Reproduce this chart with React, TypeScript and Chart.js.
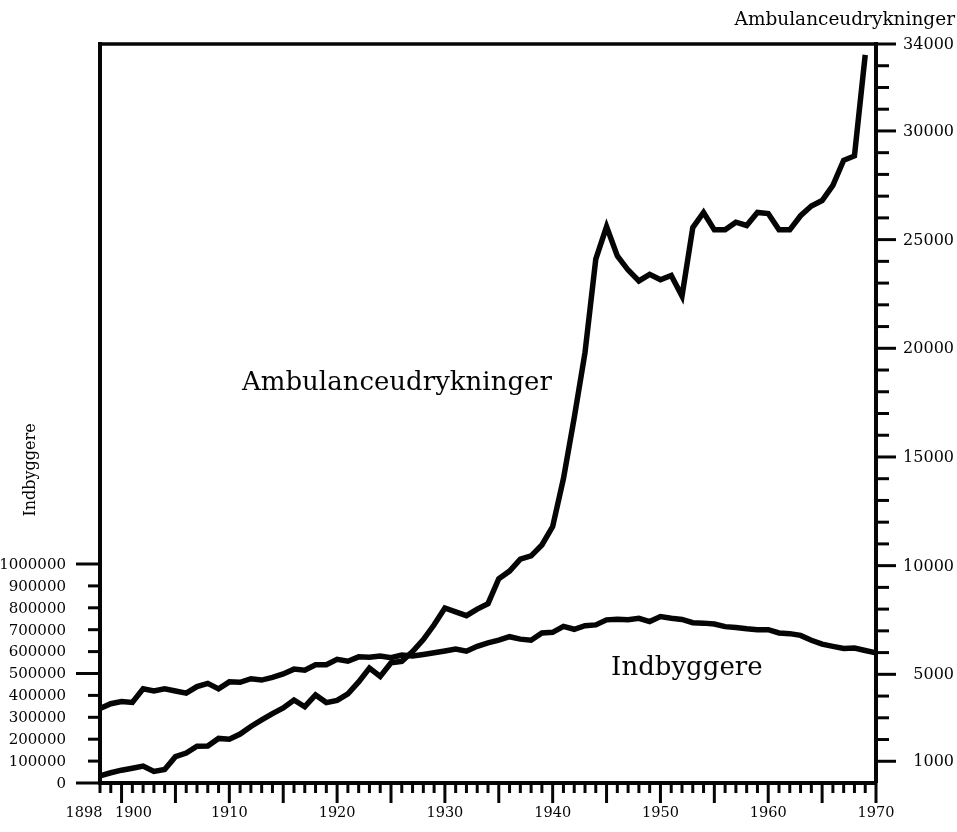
import { useEffect, useRef } from 'react';
import { Chart, registerables } from 'chart.js';

Chart.register(...registerables);

// ---------- data ----------
const popYears: number[] = [
  1898, 1899, 1900, 1901, 1902, 1903, 1904, 1905, 1906, 1907, 1908, 1909,
  1910, 1911, 1912, 1913, 1914, 1915, 1916, 1917, 1918, 1919,
  1920, 1921, 1922, 1923, 1924, 1925, 1926, 1927, 1928, 1929,
  1930, 1931, 1932, 1933, 1934, 1935, 1936, 1937, 1938, 1939,
  1940, 1941, 1942, 1943, 1944, 1945, 1946, 1947, 1948, 1949,
  1950, 1951, 1952, 1953, 1954, 1955, 1956, 1957, 1958, 1959,
  1960, 1961, 1962, 1963, 1964, 1965, 1966, 1967, 1968, 1969, 1970,
];
const indbyggere: number[] = [
  340000, 362000, 372000, 368000, 430000, 420000, 430000, 420000, 410000, 440000, 455000, 430000,
  462000, 460000, 476000, 470000, 482000, 498000, 520000, 515000, 540000, 540000,
  565000, 556000, 576000, 574000, 580000, 572000, 584000, 580000, 587000, 595000,
  603000, 612000, 602000, 624000, 640000, 652000, 668000, 657000, 652000, 685000,
  688000, 715000, 702000, 718000, 722000, 745000, 748000, 746000, 752000, 737000,
  760000, 752000, 747000, 732000, 730000, 726000, 714000, 710000, 704000, 700000,
  700000, 685000, 682000, 674000, 652000, 634000, 624000, 614000, 616000, 605000, 594000,
];

const ambYears: number[] = [
  1898, 1899, 1900, 1901, 1902, 1903, 1904, 1905, 1906, 1907, 1908, 1909,
  1910, 1911, 1912, 1913, 1914, 1915, 1916, 1917, 1918, 1919,
  1920, 1921, 1922, 1923, 1924, 1925, 1926, 1927, 1928, 1929,
  1930, 1931, 1932, 1933, 1934, 1935, 1936, 1937, 1938, 1939,
  1940, 1941, 1942, 1943, 1944, 1945, 1946, 1947, 1948, 1949,
  1950, 1951, 1952, 1953, 1954, 1955, 1956, 1957, 1958, 1959,
  1960, 1961, 1962, 1963, 1964, 1965, 1966, 1967, 1968, 1969,
];
const ambulanceudrykninger: number[] = [
  330, 470, 590, 680, 780, 530, 620, 1210, 1380, 1690, 1700, 2050,
  2010, 2250, 2600, 2900, 3190, 3450, 3820, 3510, 4050, 3700,
  3800, 4100, 4650, 5290, 4900, 5530, 5600, 6050, 6600, 7280,
  8050, 7870, 7700, 8000, 8250, 9400, 9750, 10300, 10450, 10950,
  11800, 14000, 16800, 19800, 24100, 25600, 24250, 23600, 23100, 23400,
  23150, 23350, 22400, 25550, 26250, 25450, 25450, 25800, 25650, 26250,
  26200, 25450, 25450, 26100, 26550, 26800, 27500, 28650, 28850, 33500,
];

const popTickValues: number[] = [0, 100000, 200000, 300000, 400000, 500000, 600000, 700000, 800000, 900000, 1000000];
const popMajorTicks: number[] = [0, 500000, 1000000];
const ambLabelValues: number[] = [1000, 5000, 10000, 15000, 20000, 25000, 30000, 34000];
const yearLabels: number[] = [1898, 1900, 1910, 1920, 1930, 1940, 1950, 1960, 1970];

const xMin = 1898;
const xMax = 1970;
const ambMax = 34000;
const popMax = 3374429;

const INK = '#050505';
const FONT = '"DejaVu Serif", "Liberation Serif", serif';

const handAxes = {
  id: 'handAxes',
  beforeDatasetsDraw(chart: any) {
    const { ctx, chartArea: a, scales } = chart;
    const xs = scales.x;
    const yp = scales.yPop;
    const ya = scales.yAmb;
    const seg = (x1: number, y1: number, x2: number, y2: number) => {
      ctx.beginPath();
      ctx.moveTo(x1, y1);
      ctx.lineTo(x2, y2);
      ctx.stroke();
    };
    ctx.save();
    ctx.strokeStyle = INK;
    ctx.fillStyle = INK;
    ctx.lineCap = 'butt';

    // frame
    ctx.lineWidth = 4;
    seg(a.left, a.top - 2, a.left, a.bottom + 2);
    seg(a.left, a.bottom, a.right, a.bottom);
    seg(a.right, a.top - 2, a.right, a.bottom);
    ctx.lineWidth = 3.5;
    seg(a.left - 2, a.top, a.right, a.top);

    // left axis ticks + labels
    ctx.lineWidth = 3;
    ctx.font = `15px ${FONT}`;
    ctx.textAlign = 'right';
    ctx.textBaseline = 'middle';
    popTickValues.forEach((v) => {
      const y = yp.getPixelForValue(v);
      const len = popMajorTicks.includes(v) ? 24 : 12;
      seg(a.left - len, y, a.left, y);
      ctx.fillText(String(v), a.left - 34, y + 1);
    });

    // right axis ticks + labels
    ctx.font = `16px ${FONT}`;
    ctx.textAlign = 'right';
    for (let v = 1000; v <= ambMax; v += 1000) {
      const y = ya.getPixelForValue(v);
      const major = ambLabelValues.includes(v);
      seg(a.right, y, a.right + (major ? 20 : 13), y);
      if (major) ctx.fillText(String(v), 954, y + 1);
    }

    // bottom axis ticks + labels
    for (let yr = xMin; yr <= xMax; yr++) {
      const x = xs.getPixelForValue(yr);
      const len = yr % 5 === 0 ? 20 : 10;
      seg(x, a.bottom, x, a.bottom + len);
    }
    ctx.font = `14.5px ${FONT}`;
    ctx.textAlign = 'center';
    yearLabels.forEach((yr) => {
      let x = xs.getPixelForValue(yr);
      if (yr === 1898) x -= 16;
      if (yr === 1900) x += 12;
      ctx.fillText(String(yr), x, a.bottom + 30);
    });

    // axis titles
    ctx.font = `18.5px ${FONT}`;
    ctx.textAlign = 'right';
    ctx.fillText('Ambulanceudrykninger', 955, 20);
    ctx.save();
    ctx.translate(31, 470);
    ctx.rotate(-Math.PI / 2);
    ctx.textAlign = 'center';
    ctx.font = `16px ${FONT}`;
    ctx.fillText('Indbyggere', 0, 0);
    ctx.restore();

    // in-chart series labels
    ctx.font = `26px ${FONT}`;
    ctx.textAlign = 'center';
    ctx.fillText('Ambulanceudrykninger', xs.getPixelForValue(1925.55), ya.getPixelForValue(18400));
    ctx.fillText('Indbyggere', xs.getPixelForValue(1952.45), ya.getPixelForValue(5290));

    ctx.restore();
  },
};

export default function App() {
  const ref = useRef<HTMLCanvasElement | null>(null);

  useEffect(() => {
    if (!ref.current) return;
    const chart = new Chart(ref.current, {
      type: 'line',
      data: {
        datasets: [
          {
            label: 'Ambulanceudrykninger',
            data: ambYears.map((x, i) => ({ x, y: ambulanceudrykninger[i] })),
            yAxisID: 'yAmb',
            borderColor: INK,
            borderWidth: 5.5,
            pointRadius: 0,
            tension: 0,
            fill: false,
            clip: false as any,
          },
          {
            label: 'Indbyggere',
            data: popYears.map((x, i) => ({ x, y: indbyggere[i] })),
            yAxisID: 'yPop',
            borderColor: INK,
            borderWidth: 5.5,
            pointRadius: 0,
            tension: 0,
            fill: false,
            clip: false as any,
          },
        ],
      },
      options: {
        responsive: false,
        animation: false,
        devicePixelRatio: 1,
        layout: { padding: { left: 100, top: 44, right: 81, bottom: 49 } },
        plugins: { legend: { display: false }, tooltip: { enabled: false } },
        scales: {
          x: { type: 'linear', min: xMin, max: xMax, display: false },
          yPop: { type: 'linear', position: 'left', min: 0, max: popMax, display: false },
          yAmb: { type: 'linear', position: 'right', min: 0, max: ambMax, display: false },
        },
      },
      plugins: [handAxes],
    });
    return () => chart.destroy();
  }, []);

  return (
    <div style={{ position: 'absolute', left: 0, top: 0, width: 957, height: 832, background: '#fff' }}>
      <canvas ref={ref} width={957} height={832} style={{ display: 'block' }} />
    </div>
  );
}
